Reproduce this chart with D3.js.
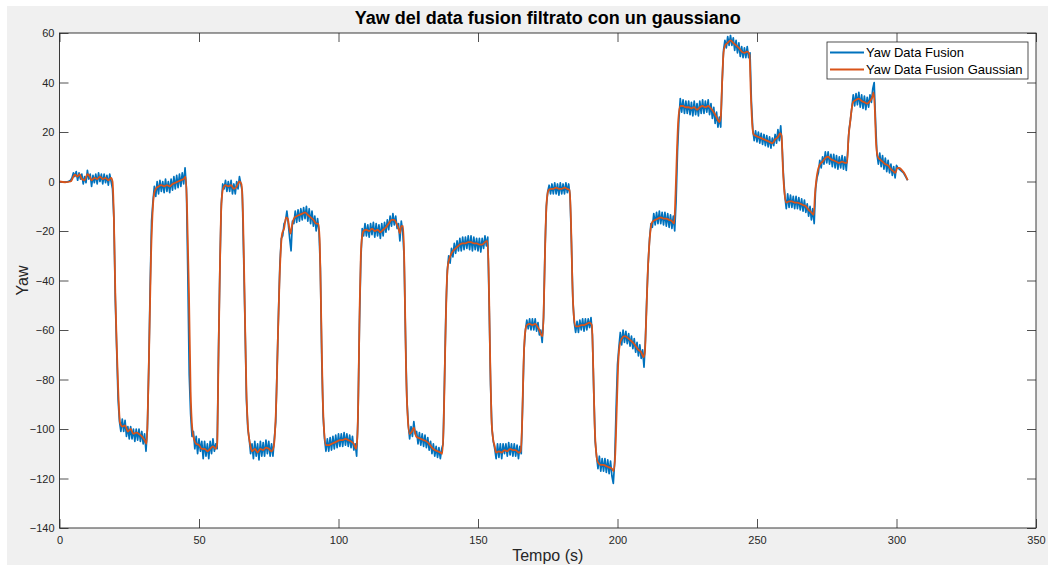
<!DOCTYPE html>
<html>
<head>
<meta charset="utf-8">
<script src="https://cdn.jsdelivr.net/npm/d3@7"></script>
<style>
  html, body { margin: 0; padding: 0; background: #fff; }
  svg { display: block; font-family: "Liberation Sans", Arial, Helvetica, sans-serif; }
</style>
</head>
<body>
<svg id="chart" width="1048" height="567"></svg>
<script>
// tick labels
const xTicks = [0, 50, 100, 150, 200, 250, 300, 350];
const yTicks = [-140, -120, -100, -80, -60, -40, -20, 0, 20, 40, 60];

// raw yaw (blue), one sample every 0.5 s starting at t = 0
const rawStep = 0.5;
const yawRaw = [
  0,-0.3,-0.3,-0.3,-0.2,-0.1,0,0.2,0.5,1.5,            // 0
  3.5,2,4,0.5,3.5,1,3,-1,2,-0.5,                        // 5
  4.5,1,3,-2,2.5,-0.5,3,-1,3.5,0,                       // 10
  3,-1,3,-0.5,2.5,-1.5,3,0,-3,-15,                      // 15
  -48,-68,-88,-97,-101,-96,-101,-96.5,-103,-99,         // 20
  -104,-99,-104,-100,-105,-100,-104.5,-100,-105,-101,   // 25
  -106,-102,-109,-100,-75,-42,-16,-8,-2,-6,             // 30
  0,-5,0.5,-4,0,-4.5,1,-4,0,-4.5,                       // 35
  1,-3.5,2,-3,2.5,-2.5,3,-2,3.5,-1,                     // 40
  5.5,-3,-38,-78,-94,-103,-101,-108,-103,-110,          // 45
  -104,-109,-105,-112,-105,-111,-106,-112,-105,-110,    // 50
  -104,-109,-106,-108,-68,-34,-9,-1,-3,0.5,             // 55
  -4,0,-4,0.5,-5,-1,-5,0,-3,2,                          // 60
  -1,-4,-30,-58,-88,-100,-104,-110,-106,-112,           // 65
  -105,-111,-106,-112.5,-105,-111,-105.5,-111,-104.5,-110, // 70
  -105,-111,-106,-111,-104,-97,-75,-53,-33,-23,         // 75
  -22,-17,-16,-12,-17,-23,-28,-16,-17,-12,              // 80
  -16.5,-11.5,-16,-11,-15.5,-10.5,-15,-10,-16,-11,      // 85
  -17,-12,-18,-14,-20,-15,-20,-35,-72,-95,              // 90
  -104,-109,-104,-109,-103.5,-108.5,-103,-108,-102.5,-107.5, // 95
  -102,-107,-102,-107,-101.5,-106.5,-102,-107,-102.5,-107.5, // 100
  -103,-108.5,-106,-111,-95,-58,-32,-19,-22,-17,        // 105
  -22,-17.5,-22.5,-17,-21.5,-16.5,-22.5,-17,-22,-17.5,  // 110
  -23,-17,-22,-16.5,-20.5,-15.5,-19.5,-14,-18,-13,      // 115
  -17.5,-14,-19,-17,-24,-16,-20,-30,-62,-88,            // 120
  -98,-104,-99,-103,-97,-102,-101,-106,-101.5,-106.5,   // 125
  -102,-107,-102.5,-107.5,-103.5,-108.5,-105,-110,-106,-111, // 130
  -107,-111.5,-107.5,-112,-108,-106,-80,-52,-36,-30,    // 135
  -33,-27,-30.5,-25,-29,-24,-28,-23,-28,-22.5,          // 140
  -27.5,-22.5,-27,-22,-27.5,-22,-28,-22.5,-27.5,-23,    // 145
  -28,-23,-28.5,-23,-27,-22,-26,-22.5,-50,-82,          // 150
  -100,-105,-108,-112,-106,-111.5,-106,-112,-106,-110,  // 155
  -106,-111,-105.5,-110.5,-106,-111,-106,-111,-106.5,-112, // 160
  -107,-110,-90,-68,-60,-56,-59.5,-55.5,-60,-55.5,      // 165
  -60,-55.5,-60.5,-57,-62,-60,-65,-55,-28,-10,          // 170
  -4,-1.5,-5,-1,-5,-0.5,-5,-1,-5.5,-0.5,                // 175
  -5,-1,-5,-0.5,-4.5,-1,-6,-25,-48,-57,                 // 180
  -61,-56.5,-61,-56,-60,-55.5,-60.5,-55.5,-60,-55.5,    // 185
  -59,-55,-62,-85,-105,-111,-116,-111,-117,-112,        // 190
  -117,-112,-117.5,-112.5,-118,-113,-119,-122,-113,-92, // 195
  -74,-67,-61,-66,-60,-65,-60.5,-65.5,-61.5,-66.5,      // 200
  -62.5,-67.5,-63.5,-69,-65,-70.5,-66,-71.5,-68,-75,    // 205
  -64,-47,-33,-23,-17,-18.5,-13,-17.5,-12.5,-17,        // 210
  -12,-17,-12.5,-17.5,-12.5,-18,-13,-18.5,-13.5,-19,    // 215
  -14,-20,-8,12,25,33.5,28,33,27.5,32.5,                // 220
  27.5,32.5,27,32,26.5,32.5,27,31.5,26.5,32.5,          // 225
  27.5,33,27.5,32.5,28,33,27,31.5,25.5,30,              // 230
  23.5,28,22,26,22,40,53,57,54,58.5,                    // 235
  55,59,55,58,53,57,52,56,50.5,54.5,                    // 240
  50,54,50,54.5,50,52,32,21,16.5,20.5,                  // 245
  16,20,15.5,19.5,15,19,14.5,18.5,14,18,                // 250
  13.5,17.5,14.5,19,15.5,21,16.5,22.5,14,2,             // 255
  -6,-11,-5,-10.5,-5.5,-10.5,-6,-11,-6,-11,             // 260
  -6.5,-11.5,-7,-12,-7.5,-12.5,-9,-14,-10,-15.5,        // 265
  -11,-17,-3,1.5,3.5,8.5,5.5,10,7,12,                   // 270
  7.5,12,7,11,6,11,5.5,10.5,5,10,                       // 275
  5.5,10.5,5,10,4.5,12,21,25,30,35,                     // 280
  30.5,35.5,31,36,30,35,29.5,34.5,29,34,                // 285
  30,35,32,37.5,40,24,11,7,11.5,6,                      // 290
  10.5,5,9.5,4,8.5,3.5,7,2.5,6,1.5,                     // 295
  6.5,5.5,5,4.5,4,3.5,2.5,1.5,0.5                       // 300
];

// gaussian-filtered yaw (orange), [time s, yaw]
const yawGauss = [
  [0,0],[2,-0.3],[4,0],[4.8,1.5],[5.5,2.8],[6.5,2],[7.2,3],[8,1],[9,0.5],[10,3],[10.8,2],[11.5,0.5],[12.5,1.5],[13.5,1],[14.5,2],[15.5,1],[16.5,1.5],[17.5,0.5],[18.5,1.5],[19,0],
  [19.5,-15],[20,-45],[20.5,-66],[21.1,-86],[21.7,-97.5],[22.5,-99],[23.5,-98.5],[24.5,-101],[25.5,-100],[26.5,-102],[27.5,-101.5],[28.5,-102],[29.5,-103],[30.5,-104.5],[31.2,-106],
  [31.6,-95],[32.3,-58],[32.8,-30],[33.3,-14],[33.9,-5],[34.5,-3],[35.5,-2],[36.5,-1.5],[37.5,-2],[38.5,-1.5],[39.5,-2],[40.5,-1],[41.5,-0.5],[42.5,0],[43.5,0.5],[44.5,1],[45.2,2],
  [45.7,-10],[46.4,-45],[47,-85],[47.6,-100],[48.2,-104],[49,-106],[50,-106.5],[51,-108],[52,-108],[53,-109],[54,-108],[55,-107],[56,-108],[56.5,-106],
  [57,-70],[57.5,-35],[58,-10],[58.6,-3],[59.5,-1.5],[60.5,-2],[61.5,-1.5],[62.5,-3],[63.5,-2],[64.5,0],[65.2,-1],
  [65.8,-15],[66.4,-50],[67,-85],[67.6,-100],[68.3,-106],[69,-109],[70,-108],[71,-109.5],[72,-108],[73,-108.5],[74,-107.5],[75,-108],[76,-109],[76.8,-107],
  [77.3,-100],[77.8,-85],[78.3,-62],[78.8,-42],[79.3,-28],[79.8,-21],[80.5,-19],[81.2,-14.5],[81.8,-15],[82.4,-19],[82.8,-21],[83.3,-18],[84,-15],[85,-14],[86,-13.5],[87,-13],[88,-12.5],[89,-13.5],[90,-14.5],[91,-15.5],[92,-17],[92.8,-17],
  [93.3,-25],[93.8,-55],[94.3,-85],[94.8,-100],[95.5,-106.5],[96.5,-106.5],[97.5,-106],[98.5,-105.5],[99.5,-105],[100.5,-104.5],[101.5,-104.5],[102.5,-104],[103.5,-104.5],[104.5,-105],[105.5,-106],[106.3,-108],
  [106.8,-102],[107.2,-80],[107.6,-50],[108,-30],[108.5,-22],[109,-20],[110,-19.5],[111,-20],[112,-19],[113,-20],[114,-19.5],[115,-20.5],[116,-19.5],[117,-18.5],[118,-17],[119,-15.5],[120,-15.5],[120.8,-17],[121.5,-19],[122,-21],[122.5,-18],[123.2,-18],
  [123.7,-40],[124.2,-75],[124.8,-95],[125.5,-102],[126.3,-101],[127,-99.5],[127.8,-103],[128.5,-103.5],[129.5,-104],[130.5,-104.5],[131.5,-105],[132.5,-106],[133.5,-107.5],[134.5,-108.5],[135.5,-109],[136.5,-109.5],[137.2,-110],
  [137.7,-98],[138.2,-70],[138.7,-45],[139.2,-34],[139.8,-31],[140.5,-29],[141.5,-27.5],[142.5,-26.5],[143.5,-25.5],[144.5,-25],[145.5,-25],[146.5,-24.5],[147.5,-24.5],[148.5,-25],[149.5,-25],[150.5,-25.5],[151.5,-25.5],[152.5,-24.5],[153.3,-24],
  [153.8,-35],[154.3,-68],[154.8,-95],[155.4,-104],[156,-107],[156.5,-109.5],[157.5,-109],[158.5,-109.5],[159.5,-108.5],[160.5,-109],[161.5,-108],[162.5,-108.5],[163.5,-108.5],[164.5,-109.5],[165.3,-109],
  [165.8,-98],[166.3,-75],[166.8,-62],[167.5,-58],[168.5,-57.5],[169.5,-58],[170.5,-57.5],[171.2,-58.5],[172,-60],[172.7,-62],[173.2,-62.5],
  [173.7,-45],[174.2,-20],[174.7,-7],[175.3,-3.5],[176,-3],[177,-3],[178,-2.5],[179,-3],[180,-3],[181,-2.5],[182,-3],[182.8,-3.5],
  [183.3,-15],[183.8,-40],[184.4,-55],[185,-58.5],[186,-58.5],[187,-58],[188,-58],[189,-57.5],[190,-57],[190.8,-58],
  [191.3,-75],[191.8,-98],[192.4,-110],[193,-113.5],[194,-114.5],[195,-114.5],[196,-115],[197,-115.5],[198,-116],[198.6,-117],
  [199.2,-110],[199.7,-93],[200.2,-75],[200.8,-66],[201.5,-63.5],[202.5,-62.5],[203.5,-63],[204.5,-64],[205.5,-65],[206.5,-66.5],[207.5,-68],[208.5,-69],[209.3,-71],
  [209.8,-69],[210.3,-55],[210.8,-38],[211.3,-27],[211.8,-20],[212.4,-16.5],[213.5,-15.5],[214.5,-15],[215.5,-14.5],[216.5,-15],[217.5,-15],[218.5,-15.5],[219.5,-16],[220.3,-17],
  [220.8,-5],[221.3,12],[221.8,25],[222.5,30.5],[223.5,30.5],[224.5,30],[225.5,30],[226.5,29.5],[227.5,30],[228.5,29],[229.5,30],[230.5,30.5],[231.5,30],[232.5,30.5],[233.5,29.5],[234.5,28],[235.5,26],[236.5,24],
  [237,26],[237.5,40],[238,52],[238.6,55],[239.5,56],[240.5,57],[241.5,56],[242.5,55],[243.5,54],[244.5,52.5],[245.5,52],[246.5,52.5],[247.3,51.5],
  [247.8,35],[248.3,23],[248.8,19],[249.5,18.5],[250.5,18],[251.5,17.5],[252.5,17],[253.5,16.5],[254.5,16],[255.5,15.5],[256.5,17],[257.5,18],[258.3,19.5],[258.8,18.5],
  [259.3,5],[259.8,-4],[260.5,-8.5],[261.5,-8],[262.5,-8],[263.5,-8.5],[264.5,-8.5],[265.5,-9],[266.5,-9.5],[267.5,-10],[268.5,-11.5],[269.5,-12.5],[270.3,-13.5],
  [270.8,-5],[271.3,1],[271.9,5],[272.6,7],[273.5,8],[274.5,9.5],[275.5,10],[276.5,9],[277.5,8.5],[278.5,8],[279.5,7.5],[280.5,8],[281.5,7.5],[282.3,7.5],
  [282.8,18],[283.3,23],[283.8,28],[284.4,32],[285.5,33],[286.5,33.5],[287.5,32.5],[288.5,32],[289.5,31.5],[290.5,32.5],[291.3,34],[291.8,36],
  [292.2,30],[292.7,15],[293.3,10],[294,9],[295,8],[296,7],[297,6.5],[298,5],[299,4],[299.6,3.5],[300.3,5.5],[301,5.5],[302,4.5],[303,3],[304,0.5]
];

const seriesNames = ["Yaw Data Fusion", "Yaw Data Fusion Gaussian"];
const seriesColors = ["#0072BD", "#D95319"];

const W = 1048, H = 567;
const plot = {left: 59.5, right: 1036, top: 33, bottom: 528};
const axisColor = "#262626";

const svg = d3.select("#chart");

// figure background
svg.append("rect").attr("x", 7).attr("y", 6).attr("width", W - 7).attr("height", 559).attr("fill", "#f0f0f0");
svg.append("rect").attr("x", plot.left).attr("y", plot.top)
  .attr("width", plot.right - plot.left).attr("height", plot.bottom - plot.top).attr("fill", "#fff");

const x = d3.scaleLinear().domain([0, 350]).range([plot.left, plot.right]);
const y = d3.scaleLinear().domain([-140, 60]).range([plot.bottom, plot.top]);

const tick = 9;
const styleAxis = (sel, showLabels) => {
  sel.select(".domain").remove();
  sel.selectAll(".tick line").attr("stroke", axisColor).attr("stroke-width", 0.8);
  sel.selectAll(".tick text").attr("fill", axisColor).style("font-size", "11px")
    .style("font-family", '"Liberation Sans", Arial, sans-serif');
  if (!showLabels) sel.selectAll(".tick text").remove();
};

svg.append("g").attr("transform", `translate(0,${plot.bottom})`)
  .call(d3.axisBottom(x).tickValues(xTicks).tickSizeInner(-tick).tickSizeOuter(0).tickPadding(8))
  .call(s => styleAxis(s, true));
svg.append("g").attr("transform", `translate(0,${plot.top})`)
  .call(d3.axisTop(x).tickValues(xTicks).tickSizeInner(-tick).tickSizeOuter(0))
  .call(s => styleAxis(s, false));
svg.append("g").attr("transform", `translate(${plot.left},0)`)
  .call(d3.axisLeft(y).tickValues(yTicks).tickSizeInner(-tick).tickSizeOuter(0).tickPadding(5))
  .call(s => styleAxis(s, true));
svg.append("g").attr("transform", `translate(${plot.right},0)`)
  .call(d3.axisRight(y).tickValues(yTicks).tickSizeInner(-tick).tickSizeOuter(0))
  .call(s => styleAxis(s, false));

// data lines
const rawLine = d3.line().x((d, i) => x(i * rawStep)).y(d => y(d));
const gaussLine = d3.line().x(d => x(d[0])).y(d => y(d[1])).curve(d3.curveMonotoneX);

svg.append("path").datum(yawRaw).attr("d", rawLine)
  .attr("fill", "none").attr("stroke", seriesColors[0]).attr("stroke-width", 1.7).attr("stroke-linejoin", "round");
svg.append("path").datum(yawGauss).attr("d", gaussLine)
  .attr("fill", "none").attr("stroke", seriesColors[1]).attr("stroke-width", 1.8).attr("stroke-linejoin", "round");

// box
svg.append("rect").attr("x", plot.left).attr("y", plot.top)
  .attr("width", plot.right - plot.left).attr("height", plot.bottom - plot.top)
  .attr("fill", "none").attr("stroke", axisColor).attr("stroke-width", 0.9);

// titles
svg.append("text").attr("x", (plot.left + plot.right) / 2).attr("y", 24)
  .attr("text-anchor", "middle").attr("fill", "#000").style("font-size", "18px").style("font-weight", "bold")
  .text("Yaw del data fusion filtrato con un gaussiano");
svg.append("text").attr("x", (plot.left + plot.right) / 2).attr("y", 561)
  .attr("text-anchor", "middle").attr("fill", axisColor).style("font-size", "16px").text("Tempo (s)");
svg.append("text").attr("transform", `translate(28,${(plot.top + plot.bottom) / 2}) rotate(-90)`)
  .attr("text-anchor", "middle").attr("fill", axisColor).style("font-size", "16px").text("Yaw");

// legend
const lg = svg.append("g").attr("transform", "translate(827,42)");
lg.append("rect").attr("width", 201).attr("height", 37).attr("fill", "#fff")
  .attr("stroke", axisColor).attr("stroke-width", 0.8);
seriesNames.forEach((name, i) => {
  const ly = 10.5 + i * 17;
  lg.append("line").attr("x1", 3).attr("x2", 37).attr("y1", ly).attr("y2", ly)
    .attr("stroke", seriesColors[i]).attr("stroke-width", 1.8);
  lg.append("text").attr("x", 39).attr("y", ly + 4.5).attr("fill", "#000")
    .style("font-size", "13px").text(name);
});
</script>
</body>
</html>
